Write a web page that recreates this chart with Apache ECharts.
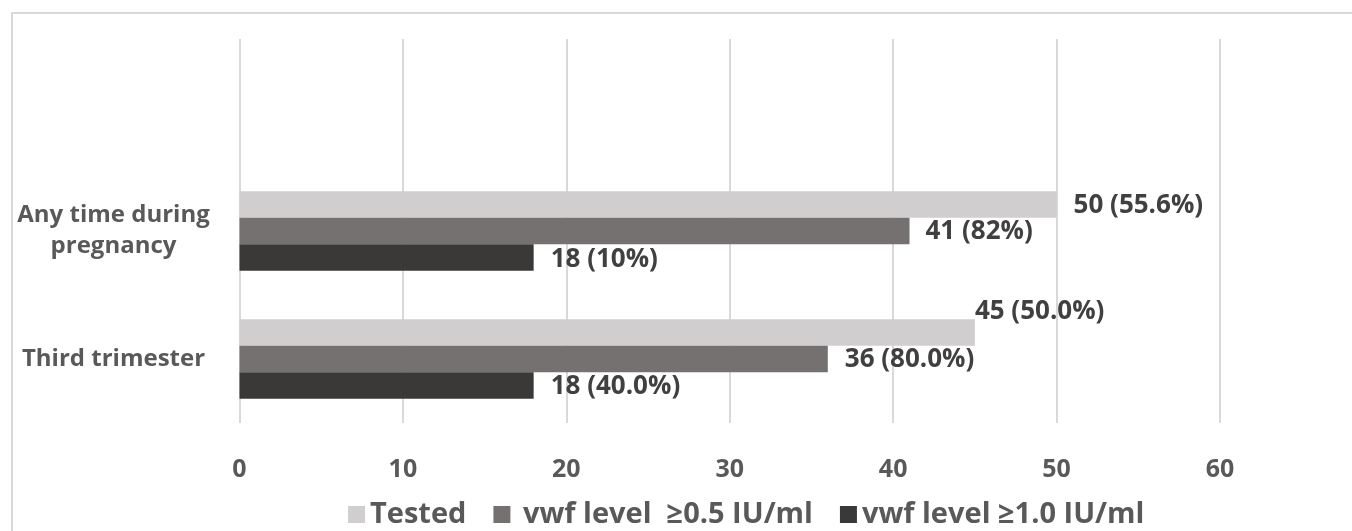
<!DOCTYPE html>
<html>
<head>
<meta charset="utf-8">
<script src="https://cdn.jsdelivr.net/npm/echarts@6/dist/echarts.min.js"></script>
<style>
  html, body { margin: 0; padding: 0; background: #ffffff; }
  #chart { width: 1352px; height: 531px; }
</style>
</head>
<body>
<div id="chart"></div>
<script>
// Categories from bottom to top; the top slot is left blank.
const categories = ['Third trimester', 'Any time during\npregnancy', ''];
const seriesNames = ['Tested', ' vwf level  \u22650.5 IU/ml', 'vwf level \u22651.0 IU/ml'];
const tested = [45, 50, null];
const vwf05 = [36, 41, null];
const vwf10 = [18, 18, null];
const testedLabels = ['45 (50.0%)', '50 (55.6%)', ''];
const vwf05Labels = ['36 (80.0%)', '41 (82%)', ''];
const vwf10Labels = ['18 (40.0%)', '18 (10%)', ''];
const xTicks = { min: 0, max: 60, interval: 10 };

const colors = ['#d0cece', '#767171', '#3b3838'];
const FONT = '"Open Sans", "Liberation Sans", sans-serif';

// Per-point label offsets [dx, dy]
const labelOffsets = [
  [[-5, -21], [12, 1], null],
  [[12, 1], [11, 1], null],
  [[12, 1], [12, 2], null]
];

function buildData(values, labels, offsets) {
  return values.map((v, i) => ({
    value: v,
    label: {
      show: v != null,
      formatter: labels[i],
      offset: offsets[i] || [0, 0]
    }
  }));
}

const labelStyle = {
  position: 'right',
  distance: 5,
  color: '#404040',
  fontFamily: FONT,
  fontWeight: 'bold',
  fontSize: 26
};

const chart = echarts.init(document.getElementById('chart'), null, { renderer: 'canvas' });

chart.setOption({
  animation: false,
  backgroundColor: '#ffffff',
  color: colors,
  graphic: [{
    type: 'rect',
    shape: { x: 12, y: 13, width: 1400, height: 600 },
    style: { fill: 'none', stroke: '#d9d9d9', lineWidth: 2 },
    silent: true,
    z: -1
  }],
  grid: { left: 239.5, right: 132, top: 39, bottom: 108, containLabel: false },
  legend: {
    data: seriesNames,
    left: 348,
    top: 500,
    padding: 0,
    itemWidth: 17,
    itemHeight: 17,
    itemGap: 27,
    icon: 'rect',
    textStyle: { color: '#595959', fontFamily: FONT, fontWeight: 'bold', fontSize: 29 }
  },
  xAxis: {
    type: 'value',
    min: xTicks.min,
    max: xTicks.max,
    interval: xTicks.interval,
    axisLine: { show: false },
    axisTick: { show: false },
    splitLine: { show: true, lineStyle: { color: '#d9d9d9', width: 2 } },
    axisLabel: { color: '#595959', fontFamily: FONT, fontWeight: 'bold', fontSize: 25, margin: 34 }
  },
  yAxis: {
    type: 'category',
    data: categories,
    axisLine: { show: false },
    axisTick: { show: false },
    axisLabel: {
      color: '#595959', fontFamily: FONT, fontWeight: 'bold', fontSize: 24,
      align: 'center', margin: 126, lineHeight: 31
    }
  },
  series: [
    { name: seriesNames[0], type: 'bar', barGap: '0%', barCategoryGap: '38%',
      data: buildData(tested, testedLabels, labelOffsets[0]), label: labelStyle },
    { name: seriesNames[1], type: 'bar', barGap: '0%', barCategoryGap: '38%',
      data: buildData(vwf05, vwf05Labels, labelOffsets[1]), label: labelStyle },
    { name: seriesNames[2], type: 'bar', barGap: '0%', barCategoryGap: '38%',
      data: buildData(vwf10, vwf10Labels, labelOffsets[2]), label: labelStyle }
  ]
});
</script>
</body>
</html>
